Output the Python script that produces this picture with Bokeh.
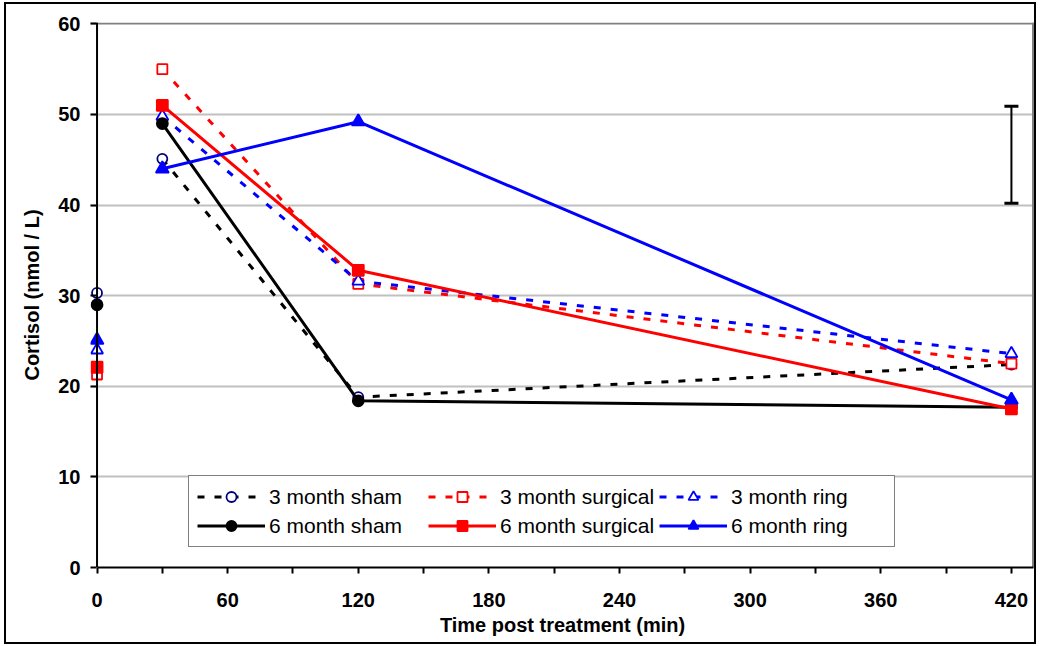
from bokeh.plotting import figure
from bokeh.models import (Range1d, FixedTicker, Legend, LegendItem, Whisker, TeeHead,
                          ColumnDataSource, Grid, Span, InlineStyleSheet)
from bokeh.embed import file_html
from bokeh.resources import INLINE

# ---- data ----
times = [0, 30, 120, 420]
sham_3m = [30.3, 45.1, 18.8, 22.4]
sham_6m = [29.0, 49.0, 18.4, 17.7]
surg_3m = [21.3, 55.0, 31.3, 22.5]
surg_6m = [22.1, 51.0, 32.8, 17.5]
ring_3m = [24.0, 49.8, 31.6, 23.6]
ring_6m = [25.1, 44.0, 49.2, 18.5]
err_x = [420]
err_lower = [40.2]
err_upper = [50.9]
x_ticks = [0, 60, 120, 180, 240, 300, 360, 420]
x_minor = [30, 90, 150, 210, 270, 330, 390]
y_ticks = [0, 10, 20, 30, 40, 50, 60]
x_min, x_max = 0, 430
y_min, y_max = 0, 60

FONT = "Liberation Sans"

# small pads around the axis limits keep markers on the y axis and the plot-area
# border lines from being clipped
p = figure(width=1036, height=644, output_backend="svg", toolbar_location=None,
           x_range=Range1d(-3, 430.6), y_range=Range1d(y_min, 60.15),
           min_border_left=90, min_border_right=2, min_border_top=22, min_border_bottom=77)
p.stylesheets = [InlineStyleSheet(css=(
    ":host::after { content: ''; position: absolute; top: 2px; left: 4px; right: 0px; "
    "bottom: 0px; border: 2px solid black; pointer-events: none; z-index: 10; }"))]
p.outline_line_color = None

p.xgrid.visible = False
p.ygrid.grid_line_color = "#c0c0c0"
p.ygrid.grid_line_width = 2
p.ygrid.ticker = FixedTicker(ticks=y_ticks[1:-1])
p.ygrid.bounds = (x_min, x_max)

# plot-area border (top and right), gray
p.add_layout(Grid(dimension=1, ticker=FixedTicker(ticks=[y_max]), bounds=(x_min, x_max),
                  grid_line_color="#808080", grid_line_width=2))
p.add_layout(Grid(dimension=0, ticker=FixedTicker(ticks=[x_max]), bounds=(y_min, y_max),
                  grid_line_color="#808080", grid_line_width=3))
# the y axis line itself sits at x = 0
p.add_layout(Span(location=x_min, dimension="height", line_color="black", line_width=2))

for ax in (p.xaxis[0], p.yaxis[0]):
    ax.major_tick_line_color = "black"
    ax.major_tick_line_width = 2
    ax.major_label_text_font = FONT
    ax.major_label_text_font_style = "bold"
    ax.major_label_text_font_size = "20px"
    ax.major_label_text_color = "black"
    ax.axis_label_text_font = FONT
    ax.axis_label_text_font_style = "bold"
    ax.axis_label_text_font_size = "20px"
    ax.axis_label_text_color = "black"

p.xaxis.ticker = FixedTicker(ticks=x_ticks, minor_ticks=x_minor)
p.xaxis.bounds = (x_min, x_max)
p.xaxis.axis_line_color = "black"
p.xaxis.axis_line_width = 2
p.xaxis.major_tick_in = 0
p.xaxis.major_tick_out = 6
p.xaxis.minor_tick_line_color = "black"
p.xaxis.minor_tick_line_width = 2
p.xaxis.minor_tick_in = 0
p.xaxis.minor_tick_out = 6
p.xaxis.major_label_standoff = 19
p.xaxis.axis_label = "Time post treatment (min)"
p.xaxis.axis_label_standoff = 4

p.yaxis.ticker = FixedTicker(ticks=y_ticks)
p.yaxis.axis_line_color = None
p.yaxis.major_tick_in = 6
p.yaxis.major_tick_out = 0
p.yaxis.minor_tick_line_color = None
p.yaxis.major_label_standoff = 10
p.yaxis.axis_label = "Cortisol (nmol / L)"
p.yaxis.axis_label_standoff = 12

series = [
    ("3 month sham", sham_3m, "black", "7 10", "circle", "#000080", "white", 10),
    ("3 month surgical", surg_3m, "#ff0000", "7 10", "square", "#ff0000", "white", 10),
    ("3 month ring", ring_3m, "#0000ff", "7 10", "triangle", "#0000ff", "white", 12),
    ("6 month sham", sham_6m, "black", "solid", "circle", "black", "black", 11),
    ("6 month surgical", surg_6m, "#ff0000", "solid", "square", "#ff0000", "#ff0000", 11),
    ("6 month ring", ring_6m, "#0000ff", "solid", "triangle", "#0000ff", "#0000ff", 13),
]

items = []
for label, vals, col, dash, marker, mline, mfill, size in series:
    # baseline (t = 0) points are shown unconnected; the line starts at 30 min
    lsrc = ColumnDataSource(dict(x=times[1:], y=vals[1:]))
    src = ColumnDataSource(dict(x=times, y=vals))
    lr = p.line("x", "y", source=lsrc, line_color=col, line_width=3, line_dash=dash)
    sr = p.scatter("x", "y", source=src, marker=marker, size=size, line_color=mline,
                   fill_color=mfill, line_width=1.8)
    items.append(LegendItem(label=label, renderers=[lr, sr]))

esrc = ColumnDataSource(dict(x=err_x, lo=err_lower, hi=err_upper))
p.add_layout(Whisker(source=esrc, base="x", lower="lo", upper="hi", dimension="height",
                     line_color="black", line_width=2,
                     upper_head=TeeHead(size=14, line_width=3, line_color="black"),
                     lower_head=TeeHead(size=14, line_width=3, line_color="black")))

legend = Legend(items=items, location=(98, 20), orientation="horizontal", ncols=3,
                label_text_font=FONT, label_text_font_size="21px", label_text_color="black",
                border_line_color="black", border_line_width=1.5,
                background_fill_color="white", background_fill_alpha=1,
                glyph_width=68, glyph_height=25, label_standoff=4, spacing=4,
                label_width=155, padding=8, margin=0)
p.add_layout(legend, "center")

open("out.html", "w").write(file_html(p, INLINE))
